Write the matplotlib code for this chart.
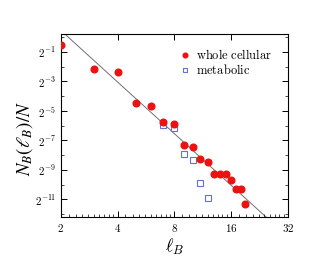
import numpy as np
import matplotlib
matplotlib.use('Agg')
import matplotlib.pyplot as plt
from matplotlib.ticker import FixedLocator, NullFormatter

plt.rcParams['mathtext.fontset'] = 'cm'
plt.rcParams['font.family'] = 'DejaVu Serif'

# whole cellular network
lb_whole = [2, 3, 4, 5, 6, 7, 8, 9, 10, 11, 12, 13, 14, 15, 16, 17, 18, 19]
log2n_whole = [-0.52, -2.16, -2.36, -4.47, -4.67, -5.76, -5.9, -7.33, -7.46,
               -8.28, -8.48, -9.3, -9.3, -9.3, -9.7, -10.3, -10.3, -11.3]

# metabolic network
lb_metab = [7, 8, 9, 10, 11, 12]
log2n_metab = [-5.95, -6.2, -7.9, -8.35, -9.9, -10.9]

# power-law guide line N_B/N ~ lB^-dB
dB = 3.5
log2A = 3.95

y_whole = 2.0 ** np.array(log2n_whole)
y_metab = 2.0 ** np.array(log2n_metab)

fig = plt.figure(figsize=(3.22, 2.75), dpi=100)
ax = fig.add_axes([0.189, 0.211, 0.705, 0.665])

xl = np.array([2, 32])
ax.plot(xl, 2.0 ** log2A * xl ** (-dB), color='#707070', lw=0.7, zorder=1)
ax.plot(lb_whole, y_whole, 'o', color='#ee1111', ms=4.8, mec='#ee1111',
        label=r'$\mathrm{whole\ cellular}$', zorder=3)
ax.plot(lb_metab, y_metab, 's', mfc='none', mec='#6670d0', ms=4, mew=0.8,
        label=r'$\mathrm{metabolic}$', zorder=2)

ax.set_xscale('log', base=2)
ax.set_yscale('log', base=2)
ax.set_xlim(2, 32)
ax.set_ylim(2.0 ** -12.2, 2.0 ** 0.2)

xt = [2, 4, 8, 16, 32]
ax.xaxis.set_major_locator(FixedLocator(xt))
ax.set_xticklabels([r'$%d$' % v for v in xt])
xminor = [2 ** k * (1 + 0.1 * i) for k in range(1, 5) for i in range(1, 10)]
ax.xaxis.set_minor_locator(FixedLocator(xminor))
ax.xaxis.set_minor_formatter(NullFormatter())

ye = [-1, -3, -5, -7, -9, -11]
ax.yaxis.set_major_locator(FixedLocator([2.0 ** e for e in ye]))
ax.set_yticklabels([r'$2^{%d}$' % e for e in ye])
ax.yaxis.set_minor_locator(FixedLocator([2.0 ** e for e in [0, -2, -4, -6, -8, -10, -12]]))
ax.yaxis.set_minor_formatter(NullFormatter())

ax.tick_params(which='both', direction='in', top=True, right=True, labelsize=8)
ax.tick_params(which='major', length=4, width=0.7)
ax.tick_params(which='minor', length=2, width=0.5)
ax.tick_params(axis='x', which='minor', top=False)
for s in ax.spines.values():
    s.set_linewidth(0.8)

ax.set_xlabel(r'$\ell_{B}$', fontsize=13, labelpad=2)
ax.set_ylabel(r'$N_{B}(\ell_{B})/N$', fontsize=13.5, math_fontfamily='stix')
ax.yaxis.set_label_coords(-0.115, 0.43)

ax.legend(loc='upper right', bbox_to_anchor=(0.98, 0.985), frameon=False,
          fontsize=9, handletextpad=0.4, labelspacing=0.1, handlelength=1.0,
          markerscale=0.7)

fig.savefig('out.png', dpi=100)
